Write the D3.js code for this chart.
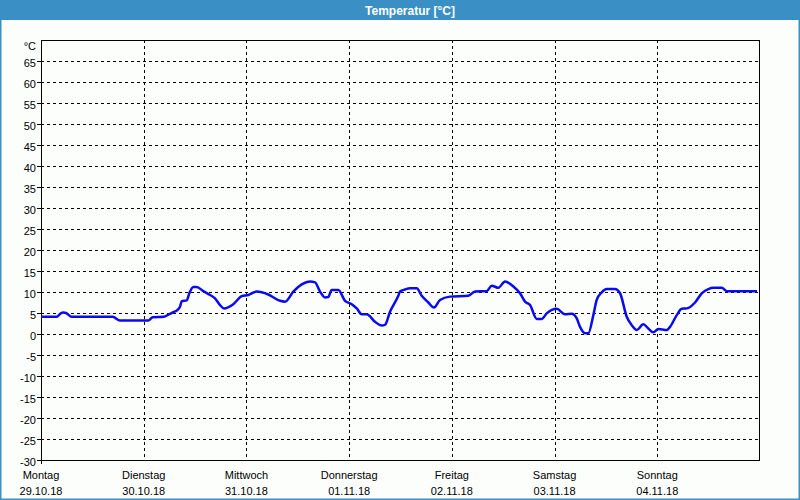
<!DOCTYPE html>
<html><head><meta charset="utf-8">
<script src="https://cdn.jsdelivr.net/npm/d3@7/dist/d3.min.js"></script>
<style>html,body{margin:0;padding:0;background:#fff}svg{display:block}</style>
</head><body><svg id="c" width="800" height="500"></svg>
<script>
const title = "Temperatur [°C]";
const unitLabel = "°C";
const dayNames = ["Montag","Dienstag","Mittwoch","Donnerstag","Freitag","Samstag","Sonntag"];
const dayDates = ["29.10.18","30.10.18","31.10.18","01.11.18","02.11.18","03.11.18","04.11.18"];
const yTickValues = [-30,-25,-20,-15,-10,-5,0,5,10,15,20,25,30,35,40,45,50,55,60,65];
// hours since Monday 00:00
const hours = [0,3.67,4.6,5.2,5.84,7.17,16.75,18.46,25.07,26.1,28.74,29.75,30.92,31.85,32.48,32.88,34.05,34.66,35.59,36.38,37.93,39.49,40.66,41.83,42.76,44.93,46.9,48.44,50.4,53.11,55.85,57.02,58.96,60.92,62.86,64.03,65.2,66.37,67.13,67.93,69.47,71.04,72.6,73.77,74.94,76.11,78.05,79.61,80.38,81.55,83.49,83.89,85.06,86.23,87.79,88.96,90.5,91.83,93.23,95.57,99.85,101.41,104.15,105.32,106.86,108.43,110.37,111.93,113.1,114.27,115.83,117,118.17,120.5,122.44,124.01,125.18,125.95,127.12,127.89,129.06,129.85,131.02,132.19,134.13,135.3,136.86,138.03,139.2,140.74,141.91,143.08,144.25,146.21,146.98,148.55,149.72,150.89,152.82,154.39,155.93,157.1,159.06,160.23,167.31];
const temps = [4.1,4.1,4.9,5.1,5.0,4.1,4.1,3.2,3.2,4.0,4.1,4.6,5.2,5.7,6.5,7.8,8.0,9.7,11.2,11.2,10.2,9.3,8.5,6.9,6.1,7.1,9.0,9.3,10.1,9.4,7.9,7.7,10.1,11.8,12.5,12.3,10.1,8.7,8.8,10.5,10.5,7.9,7.1,6.1,4.7,4.7,2.9,2.0,2.2,5.3,9.1,10.1,10.6,10.9,10.9,9.1,7.5,6.3,8.1,8.9,9.1,10.1,10.2,11.5,11.0,12.5,11.3,9.7,7.7,6.9,3.6,3.6,4.9,6.0,4.7,4.8,3.7,1.7,0.2,0.2,4.5,8.1,9.9,10.7,10.7,9.7,4.1,2.1,0.95,2.3,1.3,0.4,1.2,0.95,1.7,4.5,6.0,6.1,7.5,9.7,10.7,11.0,11.0,10.2,10.2];

const svg = d3.select("#c");
const FONT = "'Liberation Sans', Arial, sans-serif";
const blue = "#3a8fc5";

svg.append("rect").attr("x",0).attr("y",0).attr("width",800).attr("height",500).attr("fill","#fcfefc");
svg.append("rect").attr("x",0).attr("y",0).attr("width",800).attr("height",20).attr("fill",blue);
svg.append("rect").attr("x",0).attr("y",0).attr("width",1.5).attr("height",500).attr("fill",blue);
svg.append("rect").attr("x",798.5).attr("y",0).attr("width",1.5).attr("height",500).attr("fill",blue);
svg.append("rect").attr("x",0).attr("y",498.5).attr("width",800).attr("height",1.5).attr("fill",blue);
svg.append("text").attr("x",410).attr("y",14.5).attr("text-anchor","middle")
  .attr("font-family",FONT).attr("font-weight","bold").attr("font-size",12).attr("fill","#fff").text(title);

const x = d3.scaleLinear().domain([0,168]).range([41,760]);
const y = d3.scaleLinear().domain([-30,70]).range([460,40]);

const g = svg.append("g");
// horizontal gridlines
g.selectAll("line.hg").data(yTickValues.filter(v=>v>-30)).enter().append("line")
  .attr("x1",x(0)).attr("x2",x(168)).attr("y1",d=>Math.round(y(d))+0.5).attr("y2",d=>Math.round(y(d))+0.5)
  .attr("stroke","#000").attr("stroke-width",1).attr("stroke-dasharray","3,3");
// vertical gridlines
g.selectAll("line.vg").data(d3.range(1,7)).enter().append("line")
  .attr("x1",d=>Math.round(x(d*24))+0.5).attr("x2",d=>Math.round(x(d*24))+0.5).attr("y1",y(70)).attr("y2",y(-30))
  .attr("stroke","#000").attr("stroke-width",1).attr("stroke-dasharray","3,3");
// frame
g.append("rect").attr("x",x(0)+0.5).attr("y",y(70)+0.5).attr("width",x(168)-x(0)-1).attr("height",y(-30)-y(70))
  .attr("fill","none").attr("stroke","#000").attr("stroke-width",1);
// y ticks
g.selectAll("line.yt").data(yTickValues).enter().append("line")
  .attr("x1",37).attr("x2",41).attr("y1",d=>Math.round(y(d))+0.5).attr("y2",d=>Math.round(y(d))+0.5)
  .attr("stroke","#000");
g.append("line").attr("x1",41.5).attr("x2",41.5).attr("y1",460).attr("y2",464).attr("stroke","#000");
g.selectAll("text.yl").data(yTickValues).enter().append("text")
  .attr("x",36).attr("y",d=>y(d)+5.5).attr("text-anchor","end")
  .attr("font-family",FONT).attr("font-size",11).attr("fill","#000").text(d=>d);
g.append("text").attr("x",36).attr("y",49.5).attr("text-anchor","end")
  .attr("font-family",FONT).attr("font-size",11).attr("fill","#000").text(unitLabel);
// x labels
g.selectAll("text.dn").data(dayNames).enter().append("text")
  .attr("x",(d,i)=>x(i*24)).attr("y",479).attr("text-anchor","middle")
  .attr("font-family",FONT).attr("font-size",11).attr("fill","#000").text(d=>d);
g.selectAll("text.dd").data(dayDates).enter().append("text")
  .attr("x",(d,i)=>x(i*24)).attr("y",494.5).attr("text-anchor","middle")
  .attr("font-family",FONT).attr("font-size",11).attr("fill","#000").text(d=>d);

// line
const pts = hours.map((h,i)=>[h,temps[i]]);
g.append("path").datum(pts)
  .attr("d", d3.line().x(d=>x(d[0])).y(d=>y(d[1])).curve(d3.curveMonotoneX))
  .attr("fill","none").attr("stroke","#0a0aee").attr("stroke-width",2.5).attr("stroke-linejoin","round");
</script></body></html>
